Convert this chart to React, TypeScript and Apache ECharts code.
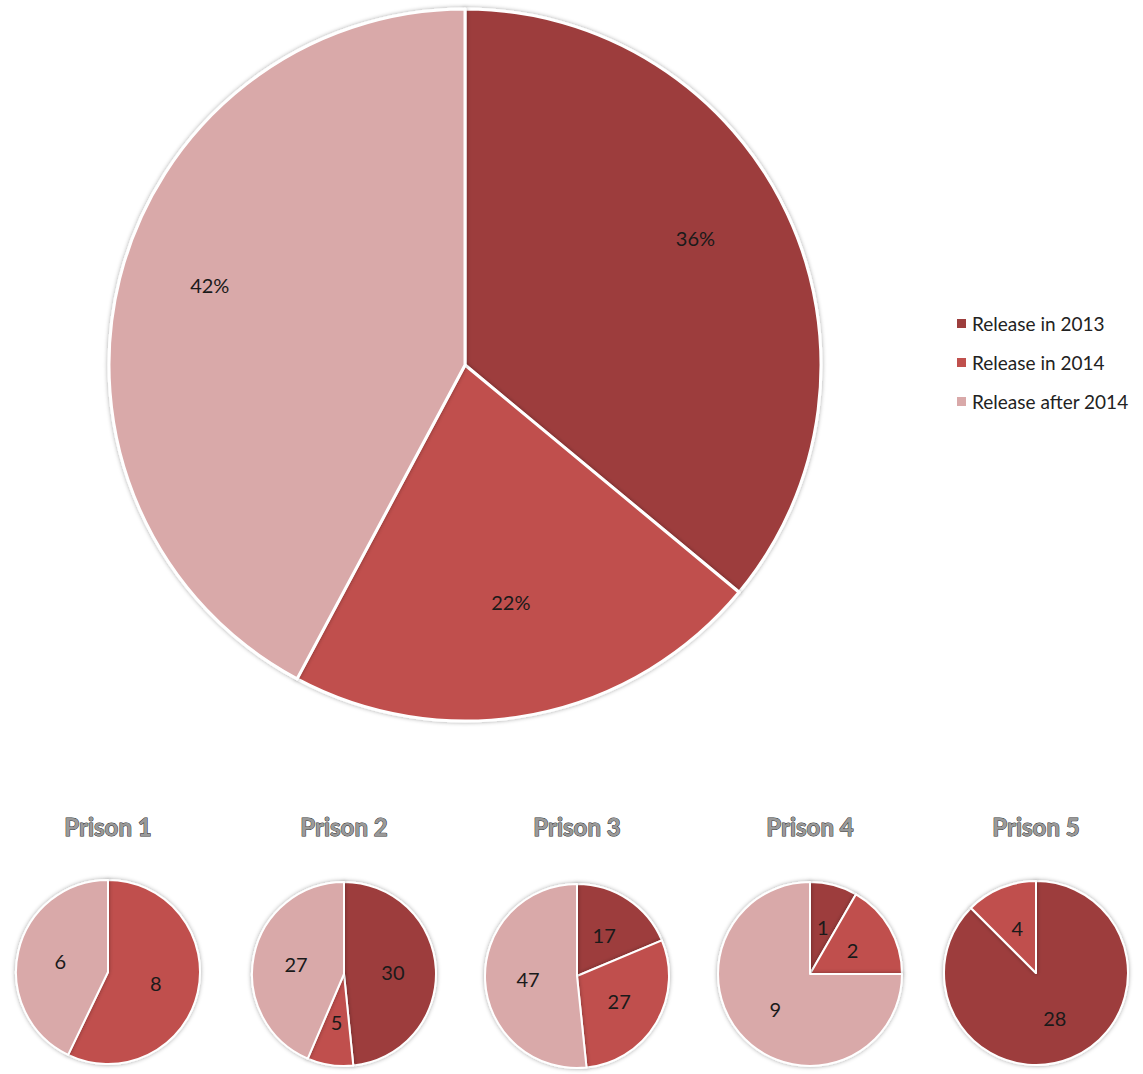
import React, { useEffect, useRef } from "react";
import * as echarts from "echarts";

const categories = ["Release in 2013", "Release in 2014", "Release after 2014"];
const colors = ["#9D3E3D", "#C0504D", "#D9A9A9"];
const overallValues = [76, 46, 89];
const prisonNames = ["Prison 1", "Prison 2", "Prison 3", "Prison 4", "Prison 5"];
const release2013 = [0, 30, 17, 1, 28];
const release2014 = [8, 5, 27, 2, 4];
const releaseAfter = [6, 27, 47, 9, 0];

const smallCenters = [
  [108, 972],
  [344, 974],
  [577, 976],
  [810, 974],
  [1036, 973],
];
const FONT = "Lato, 'Liberation Sans', sans-serif";

export default function App() {
  const ref = useRef<HTMLDivElement>(null);
  useEffect(() => {
    document.body.style.margin = "0";
    const chart = echarts.init(ref.current!, undefined, { renderer: "svg" });
    const mk = (vals: number[]) =>
      categories.map((c, i) => ({ name: c, value: vals[i], itemStyle: { color: colors[i] } }));

    const series: any[] = [
      {
        type: "pie",
        name: "Overall",
        center: [465, 365],
        radius: [0, 356],
        startAngle: 90,
        clockwise: true,
        data: mk(overallValues),
        label: { show: false },
        labelLine: { show: false },
        itemStyle: {
          borderColor: "#ffffff",
          borderWidth: 3,
          shadowBlur: 4,
          shadowColor: "rgba(0,0,0,0.35)",
        },
        silent: true,
      },
      {
        type: "pie",
        name: "OverallLabels",
        center: [465, 365],
        radius: [156, 356],
        startAngle: 90,
        clockwise: true,
        data: categories.map((c, i) => ({
          name: c,
          value: overallValues[i],
          itemStyle: { color: "rgba(0,0,0,0)" },
        })),
        label: {
          show: true,
          position: "inside",
          formatter: (p: any) => Math.round(p.percent) + "%",
          fontFamily: FONT,
          fontSize: 20,
          color: "#1a1a1a",
          offset: [-4, -17],
        },
        labelLine: { show: false },
        silent: true,
        legendHoverLink: false,
      },
    ];

    prisonNames.forEach((pn, k) => {
      series.push({
        type: "pie",
        name: pn,
        center: smallCenters[k],
        radius: [0, 92],
        startAngle: 90,
        clockwise: true,
        data: mk([release2013[k], release2014[k], releaseAfter[k]]),
        label: {
          show: true,
          position: "inside",
          formatter: (p: any) => (p.value ? String(p.value) : ""),
          fontFamily: FONT,
          fontSize: 20,
          color: "#1a1a1a",
        },
        labelLine: { show: false },
        itemStyle: {
          borderColor: "#ffffff",
          borderWidth: 2,
          shadowBlur: 4,
          shadowColor: "rgba(0,0,0,0.35)",
        },
        silent: true,
      });
    });

    chart.setOption({
      animation: false,
      backgroundColor: "#ffffff",
      title: prisonNames.map((pn, k) => ({
        text: pn,
        left: smallCenters[k][0],
        top: 814,
        padding: 0,
        textAlign: "center",
        textStyle: {
          fontFamily: FONT,
          fontWeight: "bold",
          fontSize: 24,
          color: "#9a9a9a",
          textBorderColor: "#303030",
          textBorderWidth: 1,
        },
      })),
      legend: {
        data: categories,
        orient: "vertical",
        left: 955,
        top: 314,
        padding: 0,
        icon: "rect",
        itemWidth: 11,
        itemHeight: 11,
        itemGap: 20,
        selectedMode: false,
        textStyle: { fontFamily: FONT, fontSize: 19, color: "#222", padding: [0, 0, 0, 0] },
      },
      series,
    });
    return () => chart.dispose();
  }, []);
  return <div ref={ref} style={{ width: 1143, height: 1074 }} />;
}
